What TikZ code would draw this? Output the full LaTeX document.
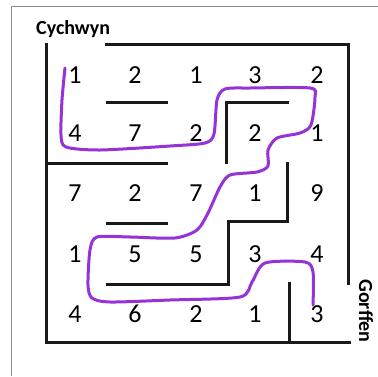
\documentclass[tikz,border=0pt]{standalone}
\usepackage{fontspec}
\setmainfont{Carlito}
\begin{document}
\begin{tikzpicture}[x=1pt,y=-1pt,
  wall/.style={line width=3pt,line cap=rect,black!90},
  frameline/.style={line width=0.8pt,black!45},
  num/.style={font=\fontsize{26}{26}\selectfont,inner sep=0pt},
  lbl/.style={font=\bfseries\fontsize{20}{20}\selectfont,inner sep=0pt},
  route/.style={line width=3pt,color={rgb,255:red,150;green,50;blue,215},line cap=round,line join=round}]
\useasboundingbox (0,0) rectangle (378,376);
\fill[white] (0,0) rectangle (378,376);
% outer frame
\draw[frameline] (11,376) -- (11,6) -- (378,6);
% maze walls
\draw[wall] (106,44) -- (348,44) -- (348,283);
\draw[wall] (46,44) -- (46,342) -- (349,342);
\draw[wall] (289,283) -- (289,342);
\draw[wall] (107,102) -- (166,102);
\draw[wall] (46,163) -- (166,163);
\draw[wall] (287,102) -- (226,102) -- (226,162);
\draw[wall] (287,163) -- (287,221) -- (228,221) -- (228,284) -- (107,284);
\draw[wall] (107,223) -- (166,223);
% numbers
\foreach \r/\y/\a/\b/\c/\d/\e in {1/75/1/2/1/3/2, 2/133/4/7/2/2/1, 3/193/7/2/7/1/9, 4/254/1/5/5/3/4, 5/314/4/6/2/1/3}{
  \node[num] (n\r a) at (75,\y) {\a};
  \node[num] (n\r b) at (135,\y) {\b};
  \node[num] (n\r c) at (196,\y) {\c};
  \node[num] (n\r d) at (255,\y) {\d};
  \node[num] (n\r e) at (317,\y) {\e};
}
% labels
\node[lbl,anchor=base west] (start) at (36,34) {Cychwyn};
\node[lbl,rotate=-90] (finish) at (366,311) {Gorffen};
% route
\draw[route] plot[smooth,tension=0.45] coordinates {
  (65,68) (62,100) (61,135) (66,147) (100,150) (170,146) (205,143) (214,134)
  (217,100) (225,89) (250,88) (310,88) (315,97) (311,125) (300,133) (277,138)
  (268,150) (268,166) (257,172) (230,175) (220,187) (208,213) (197,230) (175,238)
  (130,237) (97,237) (90,250) (88,285) (92,298) (110,302) (170,300) (240,297)
  (252,282) (265,263) (305,262) (313,272) (313,305)};
\end{tikzpicture}
\end{document}
